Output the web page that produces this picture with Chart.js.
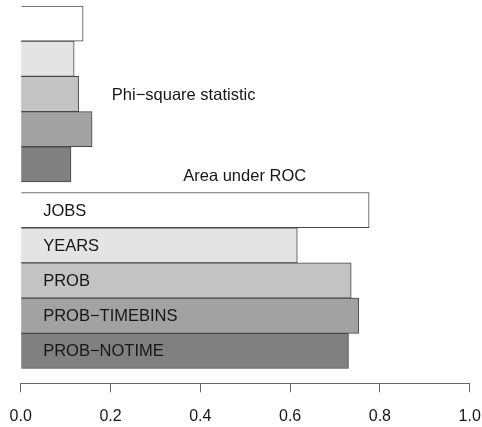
<!DOCTYPE html>
<html>
<head>
<meta charset="utf-8">
<script src="https://cdn.jsdelivr.net/npm/chart.js@4.4.1/dist/chart.umd.min.js"></script>
<style>
  html, body { margin: 0; padding: 0; background: #ffffff; }
  #wrap { width: 482px; height: 427px; }
</style>
</head>
<body>
<div id="wrap"><canvas id="c" width="482" height="427"></canvas></div>
<script>
// Feature sets compared in both panels
const categories = ['JOBS', 'YEARS', 'PROB', 'PROB\u2212TIMEBINS', 'PROB\u2212NOTIME'];
// Phi-square statistic per feature set
const phiSquare = [0.139, 0.119, 0.129, 0.159, 0.112];
// Area under the ROC curve per feature set
const rocArea = [0.776, 0.616, 0.736, 0.753, 0.730];
// Axis tick labels
const tickLabels = ['0.0', '0.2', '0.4', '0.6', '0.8', '1.0'];
// Group captions
const phiCaption = 'Phi\u2212square statistic';
const rocCaption = 'Area under ROC';

const fills = ['#ffffff', '#e4e4e4', '#c3c3c3', '#a2a2a2', '#808080'];
const FONT = '"Liberation Sans", Arial, Helvetica, sans-serif';

// slot layout on the vertical axis: five phi bars, a short gap, five ROC bars
const ROC_OFFSET = 5.3;
const phiData = phiSquare.map((v, i) => ({ x: v, y: i }));
const rocData = rocArea.map((v, i) => ({ x: v, y: i + ROC_OFFSET }));
const slotPositions = phiData.concat(rocData).map(d => d.y);

const labelPlugin = {
  id: 'barLabels',
  afterDatasetsDraw(chart) {
    const ctx = chart.ctx;
    const xs = chart.scales.x;
    const ys = chart.scales.y;
    ctx.save();
    ctx.font = '16.5px ' + FONT;
    ctx.fillStyle = '#161616';
    ctx.textBaseline = 'middle';
    ctx.textAlign = 'left';
    const meta = chart.getDatasetMeta(1);
    meta.data.forEach((bar, i) => {
      ctx.fillText(categories[i], xs.getPixelForValue(0.05), bar.y + 1);
    });
    ctx.fillText(phiCaption, xs.getPixelForValue(0.203), ys.getPixelForValue(2) + 1);
    ctx.fillText(rocCaption, xs.getPixelForValue(0.362), ys.getPixelForValue(ROC_OFFSET - 1) + 2);
    ctx.restore();
  }
};

new Chart(document.getElementById('c'), {
  type: 'bar',
  data: {
    datasets: [
      {
        label: phiCaption,
        data: phiData,
        backgroundColor: fills,
        borderColor: '#474747',
        borderWidth: 1,
        grouped: false,
        barPercentage: 1,
        categoryPercentage: 1
      },
      {
        label: rocCaption,
        data: rocData,
        backgroundColor: fills,
        borderColor: '#474747',
        borderWidth: 1,
        grouped: false,
        barPercentage: 1,
        categoryPercentage: 1
      }
    ]
  },
  plugins: [labelPlugin],
  options: {
    indexAxis: 'y',
    responsive: false,
    animation: false,
    layout: { padding: { top: 6, left: 20.7, right: 12.3, bottom: 0 } },
    plugins: {
      legend: { display: false },
      tooltip: { enabled: false }
    },
    scales: {
      y: {
        type: 'linear',
        display: false,
        reverse: true,
        offset: false,
        grace: 0,
        min: -0.5,
        max: 10.22,
        afterBuildTicks(scale) {
          scale.ticks = slotPositions.map(v => ({ value: v }));
        },
        grid: { offset: false }
      },
      x: {
        type: 'linear',
        min: 0,
        max: 1,
        afterBuildTicks(scale) {
          scale.ticks = tickLabels.map(t => ({ value: parseFloat(t) }));
        },
        afterFit(scale) {
          // axis band below the plot: fixed height, no extra side padding
          scale.height = 43.7;
          scale.paddingLeft = 0;
          scale.paddingRight = 0;
        },
        ticks: {
          callback: (v, i) => tickLabels[i],
          font: { family: FONT, size: 16 },
          color: '#161616',
          padding: 15,
          maxRotation: 0,
          autoSkip: false
        },
        grid: {
          drawOnChartArea: false,
          drawTicks: true,
          tickLength: 9,
          color: '#666666',
          lineWidth: 1
        },
        border: { display: true, color: '#666666', width: 1 }
      }
    }
  }
});
</script>
</body>
</html>
